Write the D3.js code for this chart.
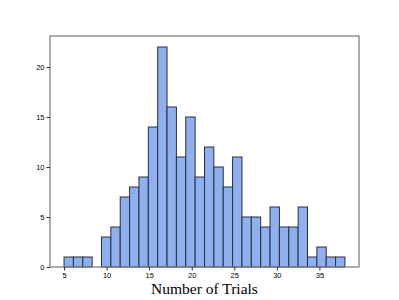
<!DOCTYPE html>
<html>
<head>
<meta charset="utf-8">
<script src="https://cdn.jsdelivr.net/npm/d3@7"></script>
<style>
  body { margin: 0; background: #fff; }
  svg { display: block; }
</style>
</head>
<body>
<svg id="chart" width="399" height="300"></svg>
<script>
// histogram counts, 30 bins from 5 to 38
var counts = [1, 1, 1, 0, 3, 4, 7, 8, 9, 14, 22, 16, 11, 15, 9, 12, 10, 8, 11, 5, 5, 4, 6, 4, 4, 6, 1, 2, 1, 1];
var binStart = 5, binEnd = 38;
var xTicks = [5, 10, 15, 20, 25, 30, 35];
var yTicks = [0, 5, 10, 15, 20];
var xLabel = "Number of Trials";

var svg = d3.select("#chart");
// note: "top" is taken by window.top, so use other names
var plotL = 50, plotR = 359, plotT = 36, plotB = 267;

var binW = (binEnd - binStart) / counts.length;
var bins = counts.map(function(c, i){
    return {x0: binStart + i * binW, x1: binStart + (i + 1) * binW, n: c};
});

// matplotlib style 5% margins
var pad = (binEnd - binStart) * 0.05;
var x = d3.scaleLinear().domain([binStart - pad, binEnd + pad]).range([plotL, plotR]);
var y = d3.scaleLinear().domain([0, d3.max(counts) * 1.05]).range([plotB, plotT]);

svg.append("g")
    .selectAll("rect")
    .data(bins.filter(function(d){ return d.n > 0; }))
    .enter()
    .append("rect")
    .attr("x", function(d){ return x(d.x0); })
    .attr("y", function(d){ return y(d.n); })
    .attr("width", function(d){ return x(d.x1) - x(d.x0); })
    .attr("height", function(d){ return y(0) - y(d.n); })
    .attr("fill", "#8eb0ee")
    .attr("stroke", "#2a2f3d")
    .attr("stroke-width", 1);

// frame
var spine = "#808080";
svg.append("rect")
    .attr("x", plotL).attr("y", plotT)
    .attr("width", plotR - plotL).attr("height", plotB - plotT)
    .attr("fill", "none")
    .attr("stroke", spine)
    .attr("stroke-width", 1.3);

var xAxis = svg.append("g")
    .attr("transform", "translate(0," + plotB + ")")
    .call(d3.axisBottom(x).tickValues(xTicks).tickSize(3.5).tickPadding(2));
var yAxis = svg.append("g")
    .attr("transform", "translate(" + plotL + ",0)")
    .call(d3.axisLeft(y).tickValues(yTicks).tickSize(3.5).tickPadding(2));

[xAxis, yAxis].forEach(function(a){
    a.select(".domain").remove();
    a.selectAll("line").attr("stroke", "#333");
    a.selectAll("text")
        .attr("fill", "#000")
        .style("font-family", "'Liberation Sans', Arial, sans-serif")
        .style("font-size", "7.5px");
});

svg.append("text")
    .attr("x", (plotL + plotR) / 2)
    .attr("y", 294)
    .attr("text-anchor", "middle")
    .style("font-family", "'Liberation Serif', 'Times New Roman', serif")
    .style("font-size", "15.5px")
    .text(xLabel);
</script>
</body>
</html>
